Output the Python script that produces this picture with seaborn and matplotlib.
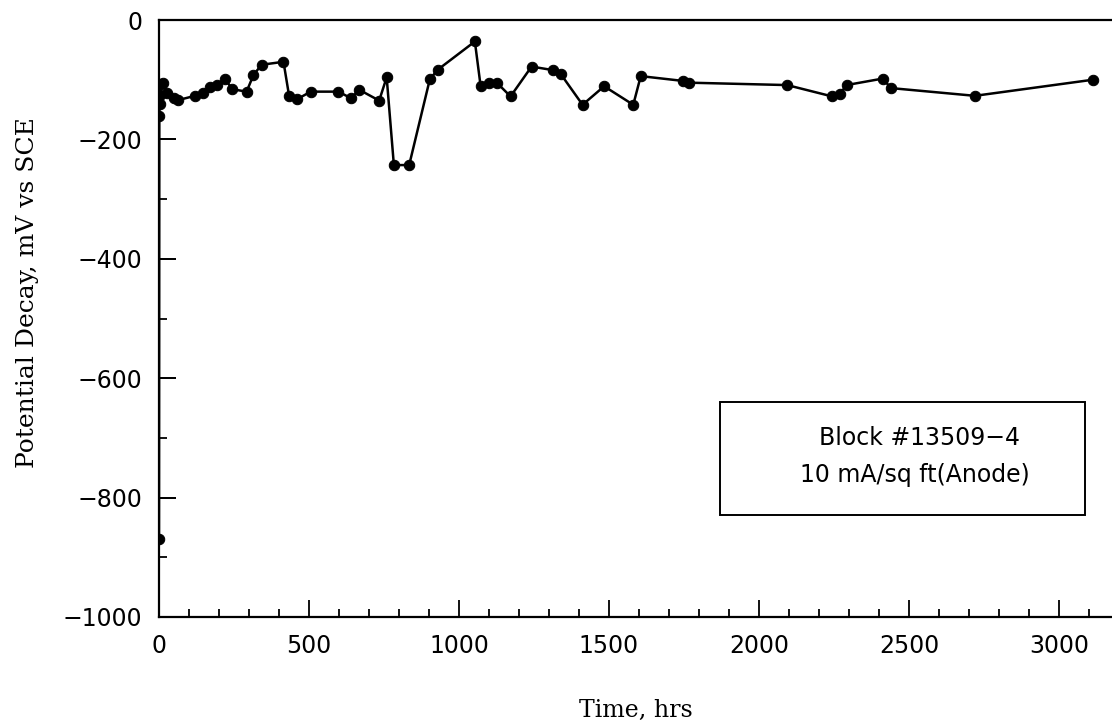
import matplotlib
matplotlib.use("Agg")
import matplotlib.pyplot as plt
from matplotlib.patches import Rectangle
from matplotlib.ticker import MultipleLocator
import seaborn as sns
import pandas as pd

# Potential decay readings for block #13509-4
hours = [0, 1, 2, 4, 6, 14, 26, 50, 65, 120, 148, 170, 192, 220, 245, 292,
         315, 342, 415, 434, 459, 506, 598, 640, 668, 734, 759, 783, 834,
         903, 930, 1053, 1072, 1101, 1126, 1172, 1242, 1314, 1340, 1412,
         1484, 1581, 1606, 1746, 1768, 2094, 2244, 2270, 2292, 2414, 2439,
         2720, 3114]
potential_mv = [-870, -160, -140, -125, -108, -106, -123, -131, -134, -127,
                -122, -112, -109, -99, -116, -120, -92, -75, -70, -128, -133,
                -120, -120, -131, -117, -135, -96, -243, -243, -99, -83, -36,
                -110, -105, -105, -128, -78, -84, -91, -142, -111, -142, -94,
                -102, -105, -109, -128, -124, -109, -98, -114, -127, -100]

x_major = [0, 500, 1000, 1500, 2000, 2500, 3000]
y_major = [0, -200, -400, -600, -800, -1000]

legend_lines = ["Block #13509\u22124", "10 mA/sq ft(Anode)"]
x_title = "Time, hrs"
y_title = "Potential Decay, mV vs SCE"

df = pd.DataFrame({"hours": hours, "potential": potential_mv})

sns.set_style("ticks")
plt.rcParams["font.family"] = ["DejaVu Sans"]
plt.rcParams["xtick.direction"] = "in"
plt.rcParams["ytick.direction"] = "in"
plt.rcParams["axes.linewidth"] = 1.6
plt.rcParams["axes.edgecolor"] = "black"
plt.rcParams["axes.spines.right"] = False

fig = plt.figure(figsize=(11.12, 7.27), dpi=100)
ax = fig.add_axes([159 / 1112, 110 / 727, 953 / 1112, 597 / 727])

sns.lineplot(data=df, x="hours", y="potential", ax=ax, estimator=None,
             sort=False, color="black", linewidth=1.8, marker="o",
             markersize=7.5, markeredgecolor="black", markerfacecolor="black")

ax.set_xlim(0, 3177)
ax.set_ylim(-1000, 0)
ax.set_xticks(x_major)
ax.set_yticks(y_major)
ax.xaxis.set_minor_locator(MultipleLocator(100))
ax.yaxis.set_minor_locator(MultipleLocator(100))
# keep the y minor marks at labelled values too, so every 100 mV has a mark
ax.yaxis.remove_overlapping_locs = False
ax.xaxis.set_ticks_position("bottom")
ax.yaxis.set_ticks_position("left")

# Inward ticks: long at labelled values, short every 100
for axis in (ax.xaxis, ax.yaxis):
    axis.set_tick_params(which="major", direction="in", length=12, width=1.3,
                         color="black", labelsize=17, labelcolor="black",
                         pad=12)
    axis.set_tick_params(which="minor", direction="in", length=6, width=1.3,
                         color="black")

ax.set_xlabel(x_title, family="DejaVu Serif", fontsize=17, color="black",
              labelpad=30)
ax.set_ylabel(y_title, family="DejaVu Serif", fontsize=18, color="black",
              labelpad=17)
ax.yaxis.label.set_y(0.543)

# Annotation box in the lower right
ax.add_patch(Rectangle((0.5887, 0.1709), 0.383, 0.1897, transform=ax.transAxes,
                       fill=False, edgecolor="black", linewidth=1.4))
ax.text(0.7985, 0.2998, legend_lines[0], transform=ax.transAxes,
        ha="center", va="center", fontsize=17, color="black")
ax.text(0.7933, 0.2379, legend_lines[1], transform=ax.transAxes,
        ha="center", va="center", fontsize=17, color="black")

# Lengthen the y minor marks that sit on labelled values
fig.canvas.draw()
for tick in ax.yaxis.get_minor_ticks():
    loc = tick.get_loc()
    if loc is not None and round(loc) % 200 == 0:
        tick.tick1line.set_markersize(12)
fig.canvas.draw()

fig.savefig("out.png", dpi=100)
